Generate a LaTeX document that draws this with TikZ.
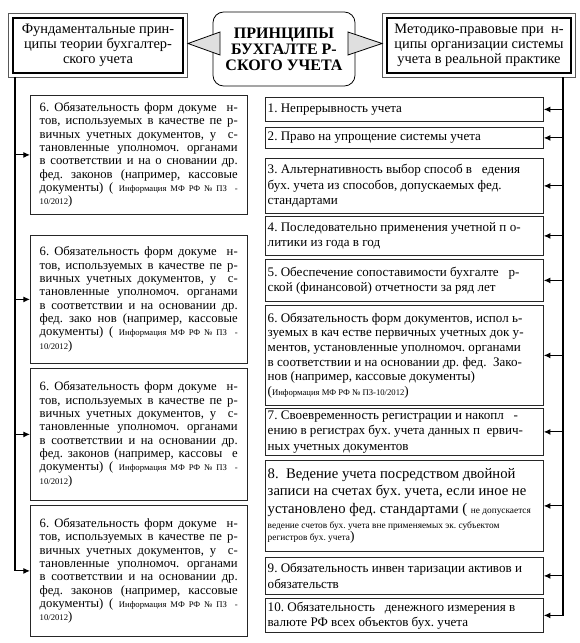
\documentclass[tikz,border=0pt]{standalone}
\usepackage{fontspec}
\setmainfont{Liberation Serif}
\usetikzlibrary{arrows.meta}
\newcommand{\tinytxt}[1]{{\fontsize{6.5}{8}\selectfont #1}}
\frenchspacing

\begin{document}
\begin{tikzpicture}[x=0.75pt, y=-0.75pt, >={Latex[length=5pt,width=4.5pt]},
	lbox/.style={draw=black!85, line width=0.6pt, anchor=north west, text width=148.5pt, inner xsep=7pt, inner ysep=1pt, align=justify, font=\fontsize{9.5}{10}\selectfont},
	rbox/.style={draw=black!85, line width=0.6pt, anchor=north west, text width=205pt, inner xsep=1.75pt, inner ysep=0.5pt, align=flush left, font=\fontsize{9.8}{11.5}\selectfont},
	headbox/.style={draw, line width=1.4pt, align=center, inner sep=0pt, font=\fontsize{10.8}{11.5}\selectfont},
	link/.style={->, line width=0.8pt}]
	\useasboundingbox (0,0) rectangle (580,643);
	% header
	\node[headbox, minimum width=127.5pt, minimum height=41.25pt] (hl) at (98,45.5) {Фундаментальные прин-\\ципы теории бухгалтер-\\ского учета};
	\node[headbox, minimum width=138pt, minimum height=41.25pt] (hr) at (479,45.5) {Методико-правовые при\ \ н-\\ципы организации системы\\учета в реальной практике};
	\draw[gray!70!black, line width=0.8pt] ([shift={(-3.5,-3.5)}]hl.north west) rectangle ([shift={(3.5,3.5)}]hl.south east);
	\draw[gray!70!black, line width=0.8pt] ([shift={(-3.5,-3.5)}]hr.north west) rectangle ([shift={(3.5,3.5)}]hr.south east);
	\node[draw, rounded corners=8pt, line width=0.6pt, minimum width=106.5pt, minimum height=55.5pt, align=center, font=\bfseries\fontsize{12}{12}\selectfont] (title) at (284,49) {ПРИНЦИПЫ\\БУХГАЛТЕ Р-\\СКОГО УЧЕТА};
	\draw[fill=gray!25, line width=0.6pt] (188,43.5) -- (220,32) -- (220,55) -- cycle;
	\draw[fill=gray!25, line width=0.6pt] (382,43.5) -- (348,32) -- (348,55) -- cycle;
	% left column
	\node[lbox, minimum height=89.25pt] (l1) at (30,95) {6. Обязательность форм докуме\ \ н-\linebreak тов, используемых в качестве пе р-\linebreak вичных учетных документов, у\ \ с-\linebreak тановленные уполномоч. органами\linebreak в соответствии и на о сновании др.\linebreak фед. законов (например, кассовые\linebreak документы) ( \tinytxt{Информация МФ РФ № ПЗ\ \ -}\linebreak \tinytxt{10/2012})};
	\node[lbox, minimum height=96pt] (l2) at (30,235) {6. Обязательность форм докуме\ \ н-\linebreak тов, используемых в качестве пе р-\linebreak вичных учетных документов, у\ \ с-\linebreak тановленные уполномоч. органами\linebreak в соответствии и на основании др.\linebreak фед. зако нов (например, кассовые\linebreak документы) ( \tinytxt{Информация МФ РФ № ПЗ\ \ -}\linebreak \tinytxt{10/2012})};
	\node[lbox, minimum height=99pt] (l3) at (30,368) {6. Обязательность форм докуме\ \ н-\linebreak тов, используемых в качестве пе р-\linebreak вичных учетных документов, у\ \ с-\linebreak тановленные уполномоч. органами\linebreak в соответствии и на основании др.\linebreak фед. законов (например, кассовы\ \ е\linebreak документы) ( \tinytxt{Информация МФ РФ № ПЗ\ \ -}\linebreak \tinytxt{10/2012})};
	\node[lbox, minimum height=98.25pt] (l4) at (30,505) {6. Обязательность форм докуме\ \ н-\linebreak тов, используемых в качестве пе р-\linebreak вичных учетных документов, у\ \ с-\linebreak тановленные уполномоч. органами\linebreak в соответствии и на основании др.\linebreak фед. законов (например, кассовые\linebreak документы) ( \tinytxt{Информация МФ РФ № ПЗ\ \ -}\linebreak \tinytxt{10/2012})};
	% right column
	\node[rbox, minimum height=18pt] (r1) at (265,97) {1. Непрерывность учета};
	\node[rbox, minimum height=15.75pt] (r2) at (265,127) {2. Право на упрощение системы учета};
	\node[rbox, minimum height=41.25pt] (r3) at (265,158) {3. Альтернативность выбор способ в\ \ \ едения\\бух. учета из способов, допускаемых фед.\\стандартами};
	\node[rbox, minimum height=29.25pt] (r4) at (265,216) {4. Последовательно применения учетной п\ о-\\литики из года в год};
	\node[rbox, minimum height=31.5pt] (r5) at (265,259) {5. Обеспечение сопоставимости бухгалте\ \ \ р-\\ской (финансовой) отчетности за ряд лет};
	\node[rbox, minimum height=75pt, font=\fontsize{9.8}{11}\selectfont] (r6) at (265,305) {6. Обязательность форм документов, испол\ ь-\\зуемых в кач естве первичных учетных док у-\\ментов, установленные уполномоч. органами\\в соответствии и на основании др. фед.\ \ Зако-\\нов (например, кассовые документы)\\(\tinytxt{Информация МФ РФ № ПЗ-10/2012})};
	\node[rbox, minimum height=35.25pt] (r7) at (265,408) {7. Своевременность регистрации и накопл\ \ \ -\\ению в регистрах бух. учета данных п\ \ ервич-\\ных учетных документов};
	\node[rbox, minimum height=68.25pt, font=\fontsize{11}{13}\selectfont] (r8) at (265,460) {8.\ \ Ведение учета посредством двойной\\записи на счетах бух. учета, если иное не\\установлено фед. стандартами ( {\fontsize{7}{8}\selectfont не допускается}\\[2.5pt]{\fontsize{7}{9}\selectfont ведение счетов бух. учета вне применяемых эк. субъектом\\регистров бух. учета{\fontsize{10}{9}\selectfont )}\par}};
	\node[rbox, minimum height=27.75pt] (r9) at (265,557) {9. Обязательность инвен таризации активов и\\обязательств};
	\node[rbox, minimum height=25.5pt] (r10) at (265,598) {10. Обязательность\ \ \ денежного измерения в\\валюте РФ всех объектов бух. учета};
	% connectors
	\coordinate (ltop) at (15,77);
	\coordinate (rtop) at (563,77);
	\draw[link] (ltop) |- (l4.west);
	\foreach \b in {l1,l2,l3} {\draw[link] (ltop |- \b.west) -- (\b.west);}
	\draw[link] (rtop) |- (r10.east);
	\foreach \b in {r1,r2,r3,r4,r5,r6,r7,r8,r9} {\draw[link] (rtop |- \b.east) -- (\b.east);}
\end{tikzpicture}
\end{document}
